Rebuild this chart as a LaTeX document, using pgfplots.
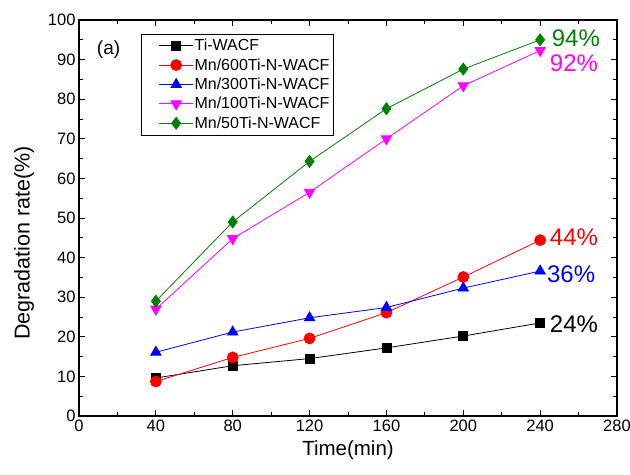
\documentclass[border=0pt]{standalone}
\usepackage{fontspec}
\setmainfont{Liberation Sans}
\usepackage{pgfplots}
\pgfplotsset{compat=1.18}
\definecolor{dgreen}{RGB}{0,128,0}
\definecolor{mag}{RGB}{255,0,255}
\begin{document}
\begin{tikzpicture}
\begin{axis}[
  scale only axis,
  width=538pt, height=396pt,
  xmin=0, xmax=280, ymin=0, ymax=100,
  xtick={0,40,...,280}, ytick={0,10,...,100},
  minor x tick num=1, minor y tick num=1,
  tick align=inside,
  major tick length=6pt, minor tick length=4pt,
  axis line style={line width=1.3pt},
  every tick/.style={black, line width=1pt},
  /pgf/number format/assume math mode=true,
  tick label style={font=\fontsize{16.5}{17}\selectfont},
  label style={font=\fontsize{20.5}{22}\selectfont},
  xlabel={Time(min)}, ylabel={Degradation rate(\%)},
  xlabel style={yshift=-3pt},
  ylabel style={font=\fontsize{21.5}{23}\selectfont, at={(ticklabel cs:0.437)}, yshift=7pt},
  legend style={at={(rel axis cs:0.115,0.965)}, anchor=north west,
    font=\fontsize{16}{17}\selectfont, draw=black, line width=0.6pt,
    row sep=2.3pt, inner xsep=3pt, inner ysep=3pt,
    nodes={inner xsep=1pt}},
  legend cell align=left,
  legend image code/.code={\path[draw=none,fill=none] (0pt,0pt) -- (1pt,0pt); \draw[#1] (15pt,0pt) -- (49pt,0pt); \draw[#1,mark repeat=2,mark phase=2] plot coordinates {(15pt,0pt) (32pt,0pt) (49pt,0pt)};},
  every axis plot/.append style={line width=0.8pt},
]
\addplot[black, mark=square*, mark size=4.5pt] coordinates {(40,9.6) (80,12.7) (120,14.5) (160,17.2) (200,20.2) (240,23.5)};
\addlegendentry{Ti-WACF}
\addplot[red, mark=*, mark size=5.5pt] coordinates {(40,8.7) (80,14.8) (120,19.6) (160,26.1) (200,35.1) (240,44.4)};
\addlegendentry{Mn/600Ti-N-WACF}
\addplot[blue, mark=triangle*, mark size=6pt] coordinates {(40,16.1) (80,21.2) (120,24.8) (160,27.4) (200,32.3) (240,36.6)};
\addlegendentry{Mn/300Ti-N-WACF}
\addplot[mag, mark=triangle*, mark options={rotate=180}, mark size=6pt] coordinates {(40,27.0) (80,44.8) (120,56.5) (160,70.0) (200,83.4) (240,92.3)};
\addlegendentry{Mn/100Ti-N-WACF}
\addplot[dgreen, mark=diamond*, mark size=6pt] coordinates {(40,29.0) (80,49.0) (120,64.3) (160,77.6) (200,87.6) (240,95.0)};
\addlegendentry{Mn/50Ti-N-WACF}
\node[anchor=west, dgreen, font=\fontsize{24}{26}\selectfont, inner sep=0pt] at (axis cs:246,95.4) {94\%};
\node[anchor=west, mag, font=\fontsize{24}{26}\selectfont, inner sep=0pt] at (axis cs:245,89.1) {92\%};
\node[anchor=west, red, font=\fontsize{24}{26}\selectfont, inner sep=0pt] at (axis cs:245,45.2) {44\%};
\node[anchor=west, blue, font=\fontsize{24}{26}\selectfont, inner sep=0pt] at (axis cs:243.5,35.9) {36\%};
\node[anchor=west, black, font=\fontsize{24}{26}\selectfont, inner sep=0pt] at (axis cs:245,23.2) {24\%};
\node[font=\fontsize{19}{21}\selectfont] at (rel axis cs:0.055,0.925) {(a)};
\end{axis}
\pgfresetboundingbox
\path ([shift={(-79pt,-58pt)}]current axis.south west) rectangle ([shift={(13pt,20pt)}]current axis.north east);
\end{tikzpicture}
\end{document}
